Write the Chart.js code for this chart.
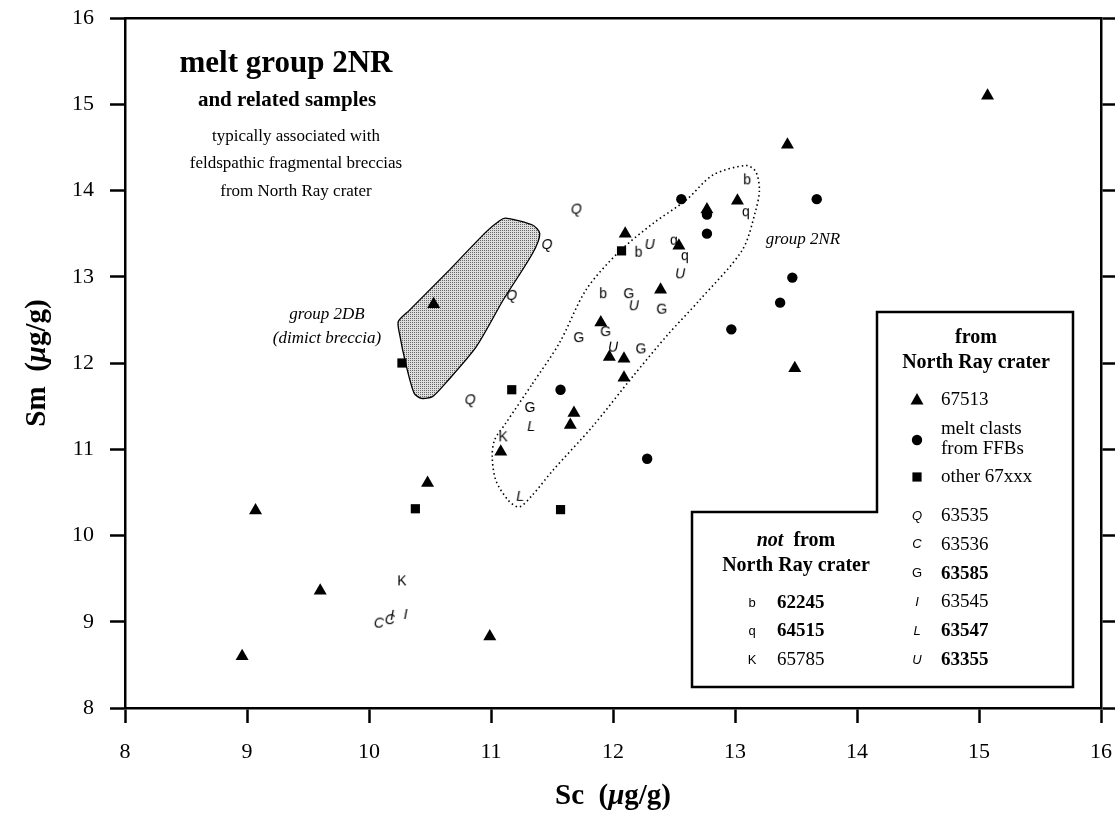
<!DOCTYPE html>
<html>
<head>
<meta charset="utf-8">
<script src="https://cdn.jsdelivr.net/npm/chart.js@4.4.1/dist/chart.umd.min.js"></script>
<style>
  html, body { margin: 0; padding: 0; background: #fff; }
  #wrap { width: 1115px; height: 819px; }
</style>
</head>
<body>
<div id="wrap"><canvas id="chart" width="1115" height="819"></canvas></div>
<script>
// axis ticks
var scTicks = [8, 9, 10, 11, 12, 13, 14, 15, 16];
var smTicks = [8, 9, 10, 11, 12, 13, 14, 15, 16];

// from North Ray crater  [Sc, Sm]
var s67513 = [[15.07,15.10],[13.43,14.53],[13.02,13.88],[12.77,13.78],[12.10,13.50],[12.54,13.36],
  [12.39,12.85],[10.53,12.68],[11.90,12.47],[11.97,12.07],[12.09,12.05],[12.09,11.83],[11.68,11.42],
  [11.65,11.28],[11.08,10.97],[10.48,10.61],[9.07,10.29],[9.60,9.36],[8.96,8.60],[10.99,8.83],[13.49,11.94]];
var meltClasts = [[12.56,13.90],[12.77,13.72],[12.77,13.50],[13.67,13.90],[13.47,12.99],[13.37,12.70],
  [12.97,12.39],[11.57,11.69],[12.28,10.89]];
var other67xxx = [[12.07,13.30],[10.27,12.00],[11.17,11.69],[10.38,10.31],[11.57,10.30]];
var s63535 = [[11.70,13.79],[11.46,13.38],[11.17,12.79],[10.83,11.58]];
var s63536 = [[10.08,8.99],[10.17,9.03]];
var s63585 = [[12.13,12.81],[12.40,12.63],[11.72,12.30],[11.94,12.37],[12.23,12.17],[11.32,11.49]];
var s63545 = [[10.19,9.08],[10.30,9.09]];
var s63547 = [[11.33,11.27],[11.24,10.46]];
var s63355 = [[12.30,13.38],[12.55,13.04],[12.17,12.67],[12.00,12.19]];
// not from North Ray crater
var s62245 = [[13.10,14.13],[12.21,13.29],[11.92,12.81]];
var s64515 = [[13.09,13.76],[12.50,13.43],[12.59,13.25]];
var s65785 = [[11.10,11.15],[10.27,9.48]];

// outlines
var group2DB = [[10.66,13.08],[10.96,13.52],[11.07,13.65],[11.12,13.68],[11.34,13.60],[11.40,13.50],
  [11.34,13.27],[11.10,12.73],[10.88,12.19],[10.63,11.77],[10.52,11.61],[10.43,11.59],[10.37,11.65],
  [10.30,12.00],[10.25,12.34],[10.24,12.48],[10.33,12.61],[10.66,13.08]];
var group2NR = [[11.34,11.76],[11.56,12.23],[11.78,12.85],[12.05,13.29],[12.33,13.62],[12.60,13.89],
  [12.82,14.18],[13.09,14.29],[13.17,14.22],[13.20,14.01],[13.17,13.77],[13.06,13.31],[12.71,12.73],
  [12.45,12.33],[12.16,11.84],[11.83,11.26],[11.51,10.76],[11.34,10.47],[11.23,10.33],[11.14,10.41],
  [11.04,10.64],[11.01,10.91],[11.03,11.11],[11.12,11.30],[11.34,11.76]];

var SERIF = '"Liberation Serif", "Times New Roman", serif';
var SANS = '"Liberation Sans", Arial, sans-serif';

function pts(arr) { return arr.map(function (p) { return { x: p[0], y: p[1] }; }); }

function glyph(ch, italic) {
  var c = document.createElement('canvas');
  c.width = 18; c.height = 18;
  var g = c.getContext('2d');
  g.font = (italic ? 'italic ' : '') + '14px ' + SANS;
  g.textAlign = 'center';
  g.textBaseline = 'middle';
  g.fillStyle = '#000';
  g.fillText(ch, 9, 10);
  return c;
}

function stipple() {
  var c = document.createElement('canvas');
  c.width = 2; c.height = 2;
  var g = c.getContext('2d');
  g.fillStyle = '#dedede'; g.fillRect(0, 0, 2, 2);
  g.fillStyle = '#666'; g.fillRect(0, 0, 1, 1);
  return document.getElementById('chart').getContext('2d').createPattern(c, 'repeat');
}

var letterSets = [
  { ch: 'Q', it: true, d: s63535 }, { ch: 'C', it: true, d: s63536 }, { ch: 'G', it: false, d: s63585 },
  { ch: 'I', it: true, d: s63545 }, { ch: 'L', it: true, d: s63547 }, { ch: 'U', it: true, d: s63355 },
  { ch: 'b', it: false, d: s62245 }, { ch: 'q', it: false, d: s64515 }, { ch: 'K', it: false, d: s65785 }
];

var datasets = [
  { data: pts(group2DB), showLine: true, fill: 'shape', backgroundColor: stipple(), borderColor: '#000',
    borderWidth: 1.3, pointRadius: 0, tension: 0.25, order: 10 },
  { data: pts(group2NR), showLine: true, fill: false, borderColor: '#000', borderWidth: 1.6,
    borderDash: [1.5, 3], pointRadius: 0, tension: 0.3, order: 9 },
  { data: pts(s67513), pointStyle: 'triangle', pointRadius: 7.5, backgroundColor: '#000', borderColor: '#000', borderWidth: 0, order: 1 },
  { data: pts(meltClasts), pointStyle: 'circle', pointRadius: 5.2, backgroundColor: '#000', borderColor: '#000', borderWidth: 0, order: 1 },
  { data: pts(other67xxx), pointStyle: 'rect', pointRadius: 6.5, backgroundColor: '#000', borderColor: '#000', borderWidth: 0, order: 1 }
];
letterSets.forEach(function (s) {
  datasets.push({ data: pts(s.d), pointStyle: glyph(s.ch, s.it), order: 2 });
});

function txt(ctx, s, x, y, font, align) {
  ctx.font = font;
  ctx.textAlign = align || 'center';
  ctx.fillText(s, x, y);
}

function symbol(ctx, kind, x, y) {
  ctx.beginPath();
  if (kind === 'tri') {
    ctx.moveTo(x, y - 7); ctx.lineTo(x + 6.5, y + 4.5); ctx.lineTo(x - 6.5, y + 4.5); ctx.closePath();
  } else if (kind === 'dot') {
    ctx.arc(x, y, 5.2, 0, Math.PI * 2);
  } else {
    ctx.rect(x - 4.6, y - 4.6, 9.2, 9.2);
  }
  ctx.fill();
}

var decor = {
  id: 'decor',
  afterDraw: function (chart) {
    var ctx = chart.ctx;
    ctx.save();
    ctx.fillStyle = '#000';
    ctx.textBaseline = 'middle';

    // heading
    txt(ctx, 'melt group 2NR', 286, 64, 'bold 31px ' + SERIF);
    txt(ctx, 'and related samples', 287, 101, 'bold 21px ' + SERIF);
    txt(ctx, 'typically associated with', 296, 137, '17px ' + SERIF);
    txt(ctx, 'feldspathic fragmental breccias', 296, 164, '17px ' + SERIF);
    txt(ctx, 'from North Ray crater', 296, 192, '17px ' + SERIF);

    // group labels
    txt(ctx, 'group 2NR', 803, 240, 'italic 17px ' + SERIF);
    txt(ctx, 'group 2DB', 327, 315, 'italic 17px ' + SERIF);
    txt(ctx, '(dimict breccia)', 327, 339, 'italic 17px ' + SERIF);

    // legend box (L shape)
    ctx.beginPath();
    ctx.moveTo(877, 312); ctx.lineTo(1073, 312); ctx.lineTo(1073, 687); ctx.lineTo(692, 687);
    ctx.lineTo(692, 512); ctx.lineTo(877, 512); ctx.closePath();
    ctx.fillStyle = '#fff'; ctx.fill();
    ctx.lineWidth = 2.5; ctx.strokeStyle = '#000'; ctx.stroke();
    ctx.fillStyle = '#000';

    txt(ctx, 'from', 976, 338, 'bold 20px ' + SERIF);
    txt(ctx, 'North Ray crater', 976, 363, 'bold 20px ' + SERIF);
    symbol(ctx, 'tri', 917, 400);
    txt(ctx, '67513', 941, 400, '19px ' + SERIF, 'left');
    symbol(ctx, 'dot', 917, 440);
    txt(ctx, 'melt clasts', 941, 429, '19px ' + SERIF, 'left');
    txt(ctx, 'from FFBs', 941, 449, '19px ' + SERIF, 'left');
    symbol(ctx, 'sq', 917, 477);
    txt(ctx, 'other 67xxx', 941, 477, '19px ' + SERIF, 'left');

    var rightRows = [['Q', true, '63535', false], ['C', true, '63536', false], ['G', false, '63585', true],
      ['I', true, '63545', false], ['L', true, '63547', true], ['U', true, '63355', true]];
    rightRows.forEach(function (r, i) {
      var y = 516 + i * 28.8;
      txt(ctx, r[0], 917, y, (r[1] ? 'italic ' : '') + '13px ' + SANS);
      txt(ctx, r[2], 941, y, (r[3] ? 'bold ' : '') + '19px ' + SERIF, 'left');
    });

    ctx.font = 'bold italic 20px ' + SERIF;
    var wNot = ctx.measureText('not').width;
    ctx.font = 'bold 20px ' + SERIF;
    var wFrom = ctx.measureText('  from').width;
    var x0 = 796 - (wNot + wFrom) / 2;
    txt(ctx, 'not', x0, 541, 'bold italic 20px ' + SERIF, 'left');
    txt(ctx, '  from', x0 + wNot, 541, 'bold 20px ' + SERIF, 'left');
    txt(ctx, 'North Ray crater', 796, 566, 'bold 20px ' + SERIF);

    var leftRows = [['b', '62245', true], ['q', '64515', true], ['K', '65785', false]];
    leftRows.forEach(function (r, i) {
      var y = 603 + i * 28.5;
      txt(ctx, r[0], 752, y, '13px ' + SANS);
      txt(ctx, r[1], 777, y, (r[2] ? 'bold ' : '') + '19px ' + SERIF, 'left');
    });

    // axis titles
    function drawTitle(first, cx, cy) {
      var f1 = 'bold 29px ' + SERIF, f2 = 'bold italic 29px ' + SERIF;
      ctx.font = f1; var w1 = ctx.measureText(first + '  (').width;
      ctx.font = f2; var w2 = ctx.measureText('\u03bc').width;
      ctx.font = f1; var w3 = ctx.measureText('g/g)').width;
      var x = cx - (w1 + w2 + w3) / 2;
      txt(ctx, first + '  (', x, cy, f1, 'left');
      txt(ctx, '\u03bc', x + w1, cy, f2, 'left');
      txt(ctx, 'g/g)', x + w1 + w2, cy, f1, 'left');
    }
    drawTitle('Sc', 613, 797);
    ctx.translate(38, 363);
    ctx.rotate(-Math.PI / 2);
    drawTitle('Sm', 0, 0);
    ctx.restore();
  }
};

function noPad(s) { s.paddingLeft = 0; s.paddingRight = 0; s.paddingTop = 0; s.paddingBottom = 0; }

var axisCommon = {
  type: 'linear', min: 8, max: 16,
  grid: { drawOnChartArea: false, drawTicks: true, tickLength: 15, tickColor: '#000', tickWidth: 2.5 },
  border: { color: '#000', width: 2.5 },
  ticks: { color: '#000', font: { family: SERIF, size: 22 } }
};

function axis(extra) { return Chart.helpers.merge(Chart.helpers.clone(axisCommon), extra); }

new Chart(document.getElementById('chart'), {
  type: 'scatter',
  data: { datasets: datasets },
  options: {
    responsive: false,
    animation: false,
    layout: { padding: { top: 18, left: 0, right: 0, bottom: 0 } },
    plugins: { legend: { display: false }, tooltip: { enabled: false } },
    scales: {
      x: axis({ position: 'bottom', ticks: { padding: 16 },
        afterBuildTicks: function (s) { s.ticks = scTicks.map(function (v) { return { value: v }; }); },
        afterFit: function (s) { s.height = 111; noPad(s); } }),
      y: axis({ position: 'left', ticks: { padding: 16 },
        afterBuildTicks: function (s) { s.ticks = smTicks.map(function (v) { return { value: v }; }); },
        afterFit: function (s) { s.width = 125; noPad(s); } }),
      xTop: axis({ position: 'top', grid: { display: false }, ticks: { display: false },
        afterFit: function (s) { s.height = 0; noPad(s); } }),
      yRight: axis({ position: 'right', ticks: { display: false },
        afterBuildTicks: function (s) { s.ticks = smTicks.map(function (v) { return { value: v }; }); },
        afterFit: function (s) { s.width = 14; noPad(s); } })
    }
  },
  plugins: [decor]
});
</script>
</body>
</html>
